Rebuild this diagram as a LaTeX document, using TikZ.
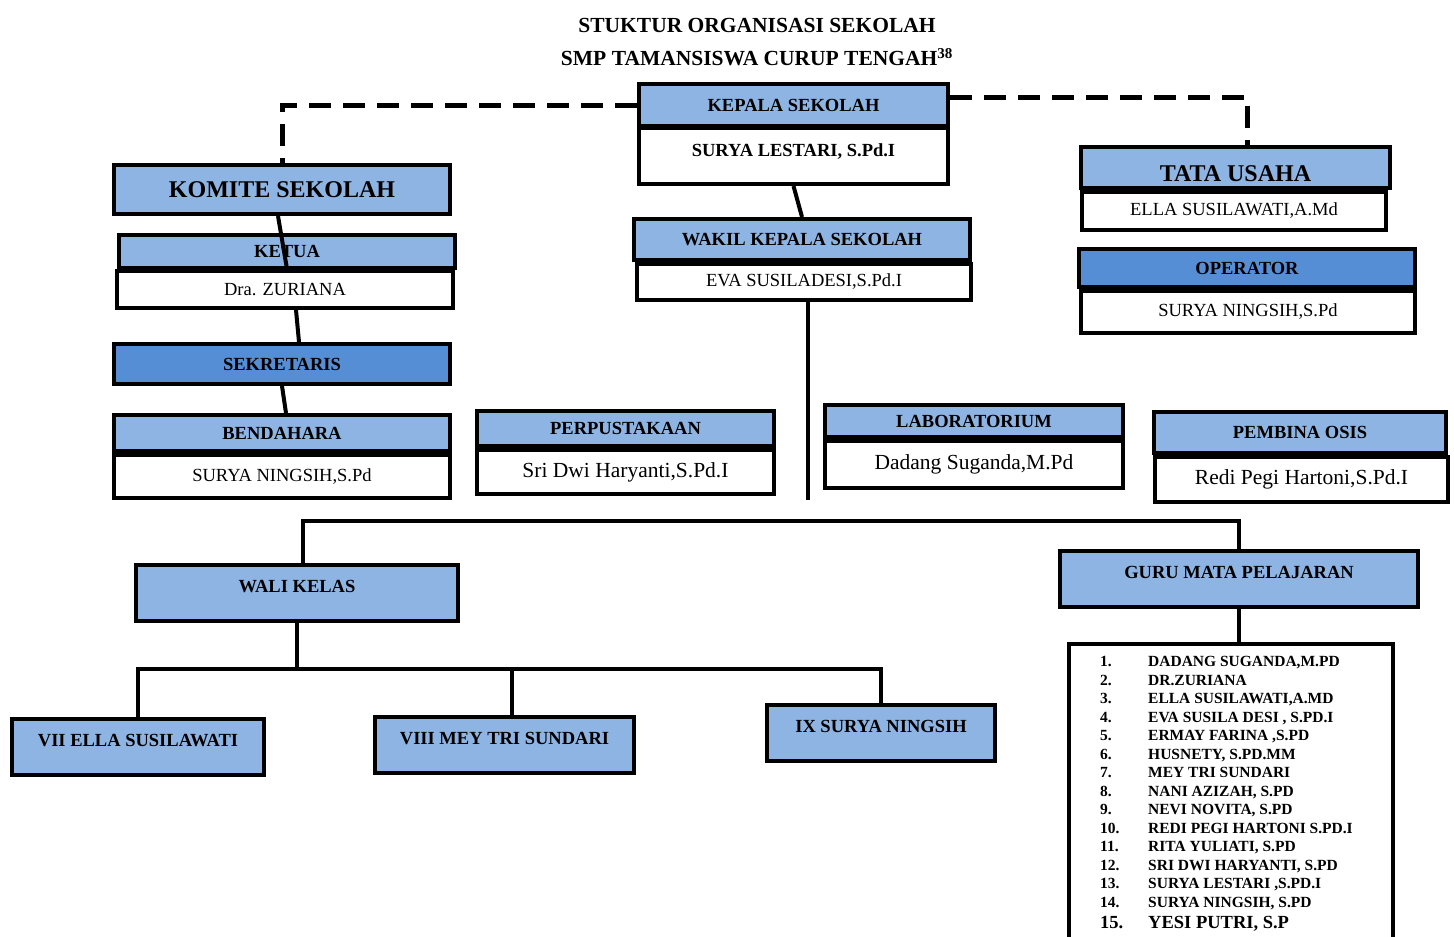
\documentclass[tikz,border=0pt]{standalone}
\usepackage{fontspec}
\setmainfont{Liberation Serif}
\definecolor{hellblau}{HTML}{8EB4E3}
\definecolor{mittelblau}{HTML}{558ED5}

\tikzset{
  kopf/.style={draw, line width=4pt, fill=hellblau, inner sep=0pt, font=\bfseries\fontsize{18.5}{20}\selectfont},
  kopfdunkel/.style={kopf, fill=mittelblau},
  feld/.style={draw, line width=4pt, fill=white, inner sep=0pt, font=\fontsize{18.5}{20}\selectfont},
  feldgross/.style={feld, font=\fontsize{21.5}{24}\selectfont},
  klasse/.style={kopf, text height=12pt, text depth=14pt},
  verbinder/.style={line width=4pt},
  gestrichelt/.style={line width=5pt, dash pattern=on 22pt off 12pt}
}

\begin{document}
\begin{tikzpicture}[x=1pt, y=-1pt]
  \useasboundingbox (0,0) rectangle (1454,937);

  % Titel
  \node[font=\bfseries\fontsize{21.5}{24}\selectfont] (titel1) at (757,25) {STUKTUR ORGANISASI SEKOLAH};
  \node[font=\bfseries\fontsize{21.5}{24}\selectfont] (titel2) at (757,57) {SMP TAMANSISWA CURUP TENGAH\textsuperscript{38}};

  % Kepala und Wakil
  \node[kopf, minimum width=309pt, minimum height=42pt] (kepala) at (793.5,105) {KEPALA SEKOLAH};
  \node[feld, font=\bfseries\fontsize{18.5}{20}\selectfont, text height=12pt, text depth=12pt,
        minimum width=309pt, minimum height=56pt] (kepalaname) at (793.5,156) {SURYA LESTARI, S.Pd.I};
  \node[kopf, minimum width=336pt, minimum height=41pt] (wakil) at (802,239.5) {WAKIL KEPALA SEKOLAH};
  \node[feld, minimum width=334pt, minimum height=36pt] (wakilname) at (804,282) {EVA SUSILADESI,S.Pd.I};

  % Komite
  \node[kopf, font=\bfseries\fontsize{24}{26}\selectfont, minimum width=336pt, minimum height=49pt] (komite) at (282,189.5) {KOMITE SEKOLAH};
  \node[kopf, minimum width=336pt, minimum height=33pt] (ketua) at (287,251.5) {KETUA};
  \node[feld, minimum width=336pt, minimum height=37pt] (ketuaname) at (285,289.5) {Dra. ZURIANA};
  \node[kopfdunkel, minimum width=336pt, minimum height=40pt] (sekretaris) at (282,364) {SEKRETARIS};
  \node[kopf, minimum width=336pt, minimum height=36pt] (bendahara) at (282,433) {BENDAHARA};
  \node[feld, minimum width=336pt, minimum height=43pt] (bendaharaname) at (282,476.5) {SURYA NINGSIH,S.Pd};

  % Tata Usaha und Operator
  \node[kopf, font=\bfseries\fontsize{24}{26}\selectfont, text height=28pt, text depth=0pt,
        minimum width=309pt, minimum height=41pt] (tata) at (1235.5,167.5) {TATA USAHA};
  \node[feld, minimum width=304pt, minimum height=38pt] (tataname) at (1234,211) {ELLA SUSILAWATI,A.Md};
  \node[kopfdunkel, minimum width=336pt, minimum height=38pt] (operator) at (1247,268) {OPERATOR};
  \node[feld, minimum width=334pt, minimum height=42pt] (operatorname) at (1248,312) {SURYA NINGSIH,S.Pd};

  % Perpustakaan, Laboratorium, Osis
  \node[kopf, minimum width=297pt, minimum height=35pt] (perpus) at (625.5,428.5) {PERPUSTAKAAN};
  \node[feldgross, minimum width=297pt, minimum height=44pt] (perpusname) at (625.5,472) {Sri Dwi Haryanti,S.Pd.I};
  \node[kopf, minimum width=298pt, minimum height=32pt] (labor) at (974,421) {LABORATORIUM};
  \node[feldgross, minimum width=298pt, minimum height=47pt] (laborname) at (974,464.5) {Dadang Suganda,M.Pd};
  \node[kopf, minimum width=292pt, minimum height=41pt] (osis) at (1300,432.5) {PEMBINA OSIS};
  \node[feldgross, minimum width=293pt, minimum height=45pt] (osisname) at (1301.5,479.5) {Redi Pegi Hartoni,S.Pd.I};

  % Wali Kelas und Guru
  \node[klasse, minimum width=322pt, minimum height=56pt] (wali) at (297,593) {WALI KELAS};
  \node[klasse, minimum width=358pt, minimum height=56pt] (guru) at (1239,579) {GURU MATA PELAJARAN};
  \node[klasse, minimum width=252pt, minimum height=56pt] (kelas7) at (138,747) {VII ELLA SUSILAWATI};
  \node[klasse, minimum width=259pt, minimum height=56pt] (kelas8) at (504.5,745) {VIII MEY TRI SUNDARI};
  \node[klasse, minimum width=228pt, minimum height=56pt] (kelas9) at (881,733) {IX SURYA NINGSIH};

  % Liste der Guru
  \node[draw, line width=4pt, fill=white, inner sep=0pt, anchor=north west,
        minimum width=324pt, minimum height=320pt] (liste) at (1067,642) {};
  \node[anchor=north west, align=left, inner sep=0pt, font=\bfseries\fontsize{15.5}{18.5}\selectfont] (namen) at (1100,656.5) {%
    \makebox[48pt][l]{1.}DADANG SUGANDA,M.PD\\
    \makebox[48pt][l]{2.}DR.ZURIANA\\
    \makebox[48pt][l]{3.}ELLA SUSILAWATI,A.MD\\
    \makebox[48pt][l]{4.}EVA SUSILA DESI , S.PD.I\\
    \makebox[48pt][l]{5.}ERMAY FARINA ,S.PD\\
    \makebox[48pt][l]{6.}HUSNETY, S.PD.MM\\
    \makebox[48pt][l]{7.}MEY TRI SUNDARI\\
    \makebox[48pt][l]{8.}NANI AZIZAH, S.PD\\
    \makebox[48pt][l]{9.}NEVI NOVITA, S.PD\\
    \makebox[48pt][l]{10.}REDI PEGI HARTONI S.PD.I\\
    \makebox[48pt][l]{11.}RITA YULIATI, S.PD\\
    \makebox[48pt][l]{12.}SRI DWI HARYANTI, S.PD\\
    \makebox[48pt][l]{13.}SURYA LESTARI ,S.PD.I\\
    \makebox[48pt][l]{14.}SURYA NINGSIH, S.PD\\[2.5pt]
    {\fontsize{18.5}{21}\selectfont\makebox[48pt][l]{15.}YESI PUTRI, S.P}};

  % gestrichelte Linien
  \coordinate (tuecke) at (1247,97);
  \draw[gestrichelt] (kepala.west) -| (komite.north);
  \draw[gestrichelt] (kepala.east |- tuecke) -- (tuecke) -- (tuecke |- tata.north);

  % Verbindungen
  \draw[verbinder] (kepalaname.south) -- (wakil.north);
  \coordinate (wakilende) at (808,500);
  \draw[verbinder] (wakilname.south -| wakilende) -- (wakilende);
  \coordinate (schiene) at (0,521);
  \draw[verbinder] ([xshift=6pt]wali.north) |- (schiene -| guru.north) -- (guru.north);
  \coordinate (klassen) at (0,669);
  \draw[verbinder] (wali.south) -- (wali.south |- klassen);
  \draw[verbinder] (kelas7.north) -- (kelas7.north |- klassen) -- (kelas9.north |- klassen) -- (kelas9.north);
  \draw[verbinder] ([xshift=7pt]kelas8.north |- klassen) -- ([xshift=7pt]kelas8.north);
  \draw[verbinder] (guru.south) -- (guru.south |- liste.north);

  % Komite nach unten
  \draw[verbinder] ([xshift=-4pt]komite.south) -- ([xshift=2pt]ketuaname.north);
  \draw[verbinder] ([xshift=11pt]ketuaname.south) -- ([xshift=17pt]sekretaris.north);
  \draw[verbinder] (sekretaris.south) -- ([xshift=4pt]bendahara.north);
\end{tikzpicture}
\end{document}
